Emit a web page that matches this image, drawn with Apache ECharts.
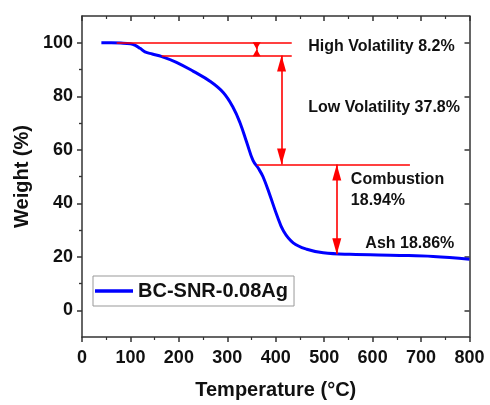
<!DOCTYPE html>
<html>
<head>
<meta charset="utf-8">
<script src="https://cdn.jsdelivr.net/npm/echarts@6/dist/echarts.min.js"></script>
<style>
html, body { margin: 0; padding: 0; background: #fff; }
#chart { width: 490px; height: 405px; }
</style>
</head>
<body>
<div id="chart"></div>
<script>
// TGA curve
const seriesName = 'BC-SNR-0.08Ag';
const temps   = [40, 60, 80, 100, 110, 120, 130, 145, 165, 195, 230, 265, 292, 312, 326, 340, 353, 365, 374, 388, 402, 416, 436, 464, 498, 553, 656, 725, 800];
const weights = [100, 100, 99.9, 99.6, 99.0, 97.9, 96.6, 95.8, 94.8, 92.7, 89.3, 85.5, 81.3, 75.8, 70.2, 62.8, 56.0, 52.8, 49.8, 43.0, 35.7, 29.6, 25.2, 22.8, 21.5, 20.9, 20.5, 20.1, 19.1];

// axis ticks
const yMajor = [0, 20, 40, 60, 80, 100];
const yMinor = [10, 30, 50, 70, 90];

// red guide lines: [x start, x end, weight]
const guideLines = [[71.6, 433, 100], [164.5, 433, 95.2], [361, 677, 54.5]];
// double arrows: [x, weight top, weight bottom]
const guideArrows = [[412, 95.2, 54.5], [526, 54.5, 20.9]];
// small pinched arrow between the two top lines: [x, top, bottom]
const pinchArrow = [360.6, 100, 95.2];

// text notes
const notes = ['High Volatility 8.2%', 'Low Volatility 37.8%', 'Combustion\n18.94%', 'Ash 18.86%'];
const noteX = [467, 467, 555, 585];
const noteY = [98.4, 75.9, 45.1, 24.9];

const font = 'Arial, "Liberation Sans", sans-serif';
const axisColor = '#333';
const red = '#ff0000';

let myChart = echarts.init(document.getElementById('chart'));

// markLine items
let lineItems = guideLines.map(g => [{coord: [g[0], g[2]]}, {coord: [g[1], g[2]]}]);
guideArrows.forEach(a => {
  lineItems.push([
    {coord: [a[0], a[1]], symbol: 'triangle', symbolSize: [9, 16], symbolOffset: [0, 8]},
    {coord: [a[0], a[2]], symbol: 'triangle', symbolSize: [9, 16], symbolOffset: [0, 8]}
  ]);
});
let mid = (pinchArrow[1] + pinchArrow[2]) / 2;
lineItems.push([{coord: [pinchArrow[0], pinchArrow[1]]}, {coord: [pinchArrow[0], mid], symbol: 'triangle', symbolSize: [8, 7], symbolOffset: [0, 3.5]}]);
lineItems.push([{coord: [pinchArrow[0], pinchArrow[2]]}, {coord: [pinchArrow[0], mid], symbol: 'triangle', symbolSize: [8, 7], symbolOffset: [0, 3.5]}]);

let noteItems = notes.map((n, i) => ({name: n, coord: [noteX[i], noteY[i]]}));

let yBase = {
  type: 'value', min: -10, max: 110, interval: 10,
  splitLine: {show: false},
  axisLine: {show: true, onZero: false, lineStyle: {color: axisColor, width: 1.5}}
};
let xBase = {
  type: 'value', min: 0, max: 800, interval: 100,
  splitLine: {show: false},
  axisLine: {show: true, onZero: false, lineStyle: {color: axisColor, width: 1.5}},
  minorTick: {show: true, splitNumber: 2, length: 3, lineStyle: {color: axisColor, width: 1.2}}
};

let option = {
  animation: false,
  grid: {left: 82, right: 20.5, top: 16, bottom: 64},
  legend: {
    left: 93, top: 276,
    padding: [5, 6, 5, 2],
    icon: 'rect',
    itemWidth: 38, itemHeight: 3.5,
    borderColor: '#999', borderWidth: 1,
    textStyle: {fontFamily: font, fontWeight: 'bold', fontSize: 20, color: '#111'},
    data: [seriesName]
  },
  xAxis: [
    Object.assign({}, xBase, {
      position: 'bottom',
      name: 'Temperature (°C)', nameLocation: 'middle', nameGap: 43,
      nameTextStyle: {fontFamily: font, fontWeight: 'bold', fontSize: 20, color: '#111'},
      axisTick: {length: 5, lineStyle: {color: axisColor, width: 1.5}},
      axisLabel: {margin: 12, fontFamily: font, fontWeight: 'bold', fontSize: 18, color: '#111'}
    }),
    Object.assign({}, xBase, {
      position: 'top',
      axisTick: {inside: true, length: 5, lineStyle: {color: axisColor, width: 1.5}},
      axisLabel: {show: false}
    })
  ],
  yAxis: [
    Object.assign({}, yBase, {
      position: 'left',
      name: 'Weight (%)', nameLocation: 'middle', nameGap: 45,
      nameTextStyle: {fontFamily: font, fontWeight: 'bold', fontSize: 20, color: '#111'},
      axisTick: {customValues: yMajor, length: 5, lineStyle: {color: axisColor, width: 1.5}},
      axisLabel: {customValues: yMajor, margin: 9, fontFamily: font, fontWeight: 'bold', fontSize: 18, color: '#111'}
    }),
    Object.assign({}, yBase, {
      position: 'left',
      axisLine: {show: false},
      axisTick: {customValues: yMinor, length: 3, lineStyle: {color: axisColor, width: 1.2}},
      axisLabel: {show: false}
    }),
    Object.assign({}, yBase, {
      position: 'right',
      axisTick: {customValues: yMajor, inside: true, length: 5, lineStyle: {color: axisColor, width: 1.5}},
      axisLabel: {show: false}
    }),
    Object.assign({}, yBase, {
      position: 'right',
      axisLine: {show: false},
      axisTick: {customValues: yMinor, inside: true, length: 3, lineStyle: {color: axisColor, width: 1.2}},
      axisLabel: {show: false}
    })
  ],
  series: [{
    name: seriesName,
    type: 'line',
    xAxisIndex: 0, yAxisIndex: 0,
    data: temps.map((t, i) => [t, weights[i]]),
    smooth: 0.4,
    symbol: 'none',
    lineStyle: {color: '#0000ff', width: 3},
    itemStyle: {color: '#0000ff'},
    z: 3,
    markLine: {
      silent: true,
      symbol: ['none', 'none'],
      label: {show: false},
      lineStyle: {color: red, width: 1.6, type: 'solid'},
      emphasis: {disabled: true},
      data: lineItems
    },
    markPoint: {
      silent: true,
      symbol: 'circle', symbolSize: 0,
      label: {
        show: true, position: 'right', distance: 0,
        formatter: p => p.name,
        fontFamily: font, fontWeight: 'bold', fontSize: 16, lineHeight: 21,
        color: '#111', align: 'left'
      },
      data: noteItems
    }
  }]
};
myChart.setOption(option);
</script>
</body>
</html>
